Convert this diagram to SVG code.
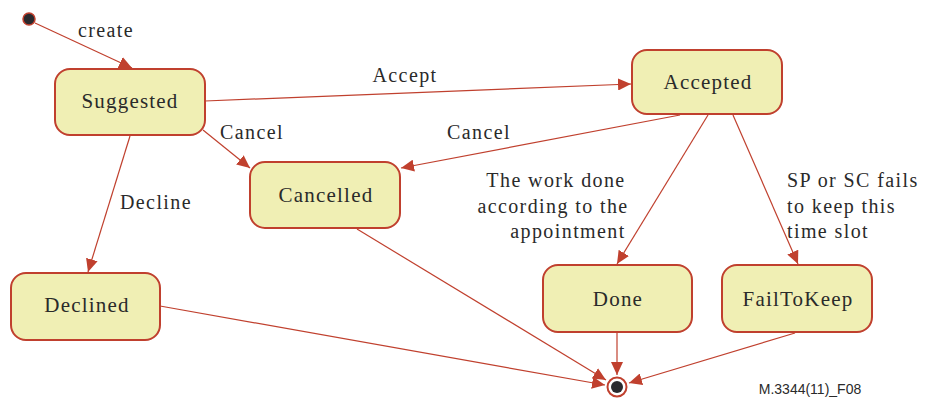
<svg xmlns="http://www.w3.org/2000/svg" width="925" height="403" viewBox="0 0 925 403">
<style>
.node{fill:#f0efb4;stroke:#c0402e;stroke-width:2}
.nt{font-family:"Liberation Serif",serif;font-size:21px;letter-spacing:1.2px;fill:#2a2a2a;text-anchor:middle}
.et{font-family:"Liberation Serif",serif;font-size:20px;letter-spacing:1.4px;fill:#2a2a2a}
.e{stroke:#c0402e;stroke-width:1.2;fill:none;marker-end:url(#ah)}
</style>
<defs>
<marker id="ah" markerUnits="userSpaceOnUse" markerWidth="14" markerHeight="12" refX="13" refY="6" orient="auto">
<path d="M0,0 L13,6 L0,12 Z" fill="#c0402e"/>
</marker>
</defs>
<rect width="925" height="403" fill="#fff"/>
<g id="connectors">
<line class="e" x1="35" y1="23" x2="132" y2="68"/>
<line class="e" x1="205" y1="101" x2="631" y2="84"/>
<line class="e" x1="203" y1="130" x2="250" y2="168"/>
<line class="e" x1="680" y1="115" x2="401" y2="168"/>
<line class="e" x1="130" y1="136" x2="88" y2="272"/>
<line class="e" x1="708" y1="115" x2="617" y2="264"/>
<line class="e" x1="733" y1="115" x2="798" y2="264"/>
<line class="e" x1="357" y1="229" x2="606" y2="380"/>
<line class="e" x1="160" y1="306" x2="605" y2="385"/>
<line class="e" x1="617" y1="333" x2="617" y2="375"/>
<line class="e" x1="795" y1="333" x2="629" y2="383"/>
<text class="et" x="106" y="37" text-anchor="middle">create</text>
<text class="et" x="405" y="82" text-anchor="middle">Accept</text>
<text class="et" x="252" y="139" text-anchor="middle">Cancel</text>
<text class="et" x="479" y="139" text-anchor="middle">Cancel</text>
<text class="et" x="156" y="209" text-anchor="middle">Decline</text>
<text class="et" x="556" y="187" text-anchor="middle">The work done</text>
<text class="et" x="553" y="213" text-anchor="middle">according to the</text>
<text class="et" x="568" y="238" text-anchor="middle">appointment</text>
<text class="et" x="787" y="187">SP or SC fails</text>
<text class="et" x="787" y="213">to keep this</text>
<text class="et" x="787" y="238">time slot</text>
</g>
<g id="initial"><circle cx="29" cy="19" r="6" fill="#2a2a2e" stroke="#c0402e" stroke-width="1.5"/></g>
<g id="suggested"><rect class="node" x="55" y="69" width="150" height="66" rx="15"/><text class="nt" x="130" y="108">Suggested</text></g>
<g id="accepted"><rect class="node" x="632" y="50" width="150" height="64" rx="15"/><text class="nt" x="708" y="89">Accepted</text></g>
<g id="cancelled"><rect class="node" x="250" y="162" width="150" height="66" rx="15"/><text class="nt" x="326" y="202">Cancelled</text></g>
<g id="declined"><rect class="node" x="11" y="273" width="149" height="67" rx="15"/><text class="nt" x="87" y="312">Declined</text></g>
<g id="done"><rect class="node" x="543" y="265" width="149" height="67" rx="15"/><text class="nt" x="618" y="306">Done</text></g>
<g id="failtokeep"><rect class="node" x="722" y="265" width="150" height="67" rx="15"/><text class="nt" x="798" y="306">FailToKeep</text></g>
<g id="final"><circle cx="617" cy="387" r="9.5" fill="#fff" stroke="#c0402e" stroke-width="2"/><circle cx="617" cy="387" r="6" fill="#2a2a2e"/></g>
<text x="810" y="394" font-family="Liberation Sans,sans-serif" font-size="14" fill="#2a2a2a" text-anchor="middle">M.3344(11)_F08</text>
</svg>
